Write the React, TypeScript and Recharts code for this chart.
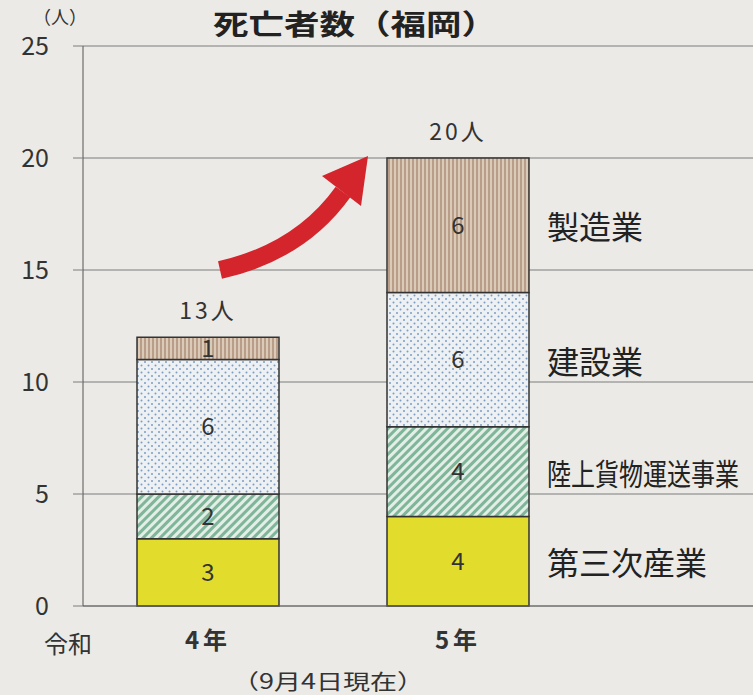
import React from 'react';
import { BarChart, Bar, XAxis, YAxis, CartesianGrid, LabelList } from 'recharts';

const years = ['4年', '5年'];
const tertiary = [3, 4];
const freight = [2, 4];
const construction = [6, 6];
const manufacturing = [1, 6];
const totals = [13, 20];
const yTicks = [0, 5, 10, 15, 20, 25];

const FONT = '"Noto Sans CJK JP", "Noto Sans", sans-serif';

const series = [
  { key: 'tertiary', name: '第三次産業', fill: '#e2dd2c' },
  { key: 'freight', name: '陸上貨物運送事業', fill: 'url(#pGreen)' },
  { key: 'construction', name: '建設業', fill: 'url(#pDots)' },
  { key: 'manufacturing', name: '製造業', fill: 'url(#pTan)' },
];

const data = years.map((year, i) => ({
  year,
  tertiary: tertiary[i],
  freight: freight[i],
  construction: construction[i],
  manufacturing: manufacturing[i],
  total: totals[i],
}));

// category name drawn to the right of the last bar's segment
const sideLabel = (name: string) => (props: any) => {
  const { x, y, width, height, index } = props;
  if (index !== years.length - 1) return null;
  const tx = Number(x) + Number(width) + 18;
  const ty = Number(y) + Number(height) / 2;
  // long name is squeezed horizontally like in the print
  const sx = name.length > 5 ? 0.8 : 1;
  return (
    <g transform={`translate(${tx},${ty}) scale(${sx},1)`}>
      <text x={0} y={0} dominantBaseline="central" fontSize={name.length > 5 ? 30 : 32} fill="#222" fontFamily={FONT}>
        {name}
      </text>
    </g>
  );
};

export default function App() {
  return (
    <div style={{ position: 'absolute', left: 0, top: 0, width: 753, height: 695, background: '#ebeae6', fontFamily: FONT }}>
      <BarChart width={753} height={695} data={data} margin={{ top: 46, right: 0, bottom: 29, left: 0 }} barSize={142}>
        <defs>
          <pattern id="pTan" width="4" height="4" patternUnits="userSpaceOnUse">
            <rect width="4" height="4" fill="#dccab8" />
            <rect width="2" height="4" fill="#b89e88" />
          </pattern>
          <pattern id="pDots" width="7" height="7" patternUnits="userSpaceOnUse">
            <rect width="7" height="7" fill="#eef1f3" />
            <circle cx="1.5" cy="1.5" r="1" fill="#7b9cc4" />
            <circle cx="5" cy="5" r="1" fill="#7b9cc4" />
          </pattern>
          <pattern id="pGreen" width="6" height="6" patternUnits="userSpaceOnUse" patternTransform="rotate(45)">
            <rect width="6" height="6" fill="#e3eee6" />
            <rect width="3" height="6" fill="#7fb599" />
          </pattern>
        </defs>
        <CartesianGrid vertical={false} stroke="#7d7d7d" strokeWidth={1} />
        <XAxis
          dataKey="year"
          height={60}
          padding={{ left: 0, right: 170 }}
          tickLine={false}
          tickSize={0}
          tickMargin={26}
          axisLine={{ stroke: '#666' }}
          tick={{ fontSize: 24, fontWeight: 700, fill: '#333', fontFamily: FONT, letterSpacing: 4 }}
        />
        <YAxis
          width={83}
          domain={[0, 25]}
          ticks={yTicks}
          interval={0}
          tickSize={10}
          tickMargin={24}
          axisLine={{ stroke: '#555' }}
          tickLine={{ stroke: '#7d7d7d' }}
          tick={{ fontSize: 25, fill: '#333', fontFamily: FONT }}
        />
        {series.map((s, si) => (
          <Bar key={s.key} dataKey={s.key} name={s.name} stackId="a" fill={s.fill} stroke="#333" strokeWidth={1.5} isAnimationActive={false}>
            <LabelList dataKey={s.key} position="center" fontSize={24} fill="#333" fontFamily={FONT} />
            <LabelList dataKey={s.key} content={sideLabel(s.name)} />
            {si === series.length - 1 && (
              <LabelList
                dataKey="total"
                position="top"
                offset={18}
                fontSize={23}
                letterSpacing={3}
                fill="#333"
                fontFamily={FONT}
                formatter={(v: any) => `${v}人`}
              />
            )}
          </Bar>
        ))}
      </BarChart>
      <svg width={753} height={695} style={{ position: 'absolute', left: 0, top: 0, pointerEvents: 'none' }}>
        <text x={355} y={35} textAnchor="middle" fontSize={28} fontWeight={700} fill="#222" fontFamily={FONT} textLength={284} lengthAdjust="spacingAndGlyphs">
          死亡者数（福岡）
        </text>
        <text x={60} y={24} textAnchor="middle" fontSize={18} fill="#333" fontFamily={FONT}>（人）</text>
        <text x={68} y={653} textAnchor="middle" fontSize={24} fill="#333" fontFamily={FONT}>令和</text>
        <text x={328} y={689} textAnchor="middle" fontSize={21} fill="#333" fontFamily={FONT} textLength={192} lengthAdjust="spacingAndGlyphs">（9月4日現在）</text>
        <path d="M220,270 Q300,252 343,192" fill="none" stroke="#d3252b" strokeWidth={18} />
        <polygon points="368,156 322,176 361,206" fill="#d3252b" />
      </svg>
    </div>
  );
}
